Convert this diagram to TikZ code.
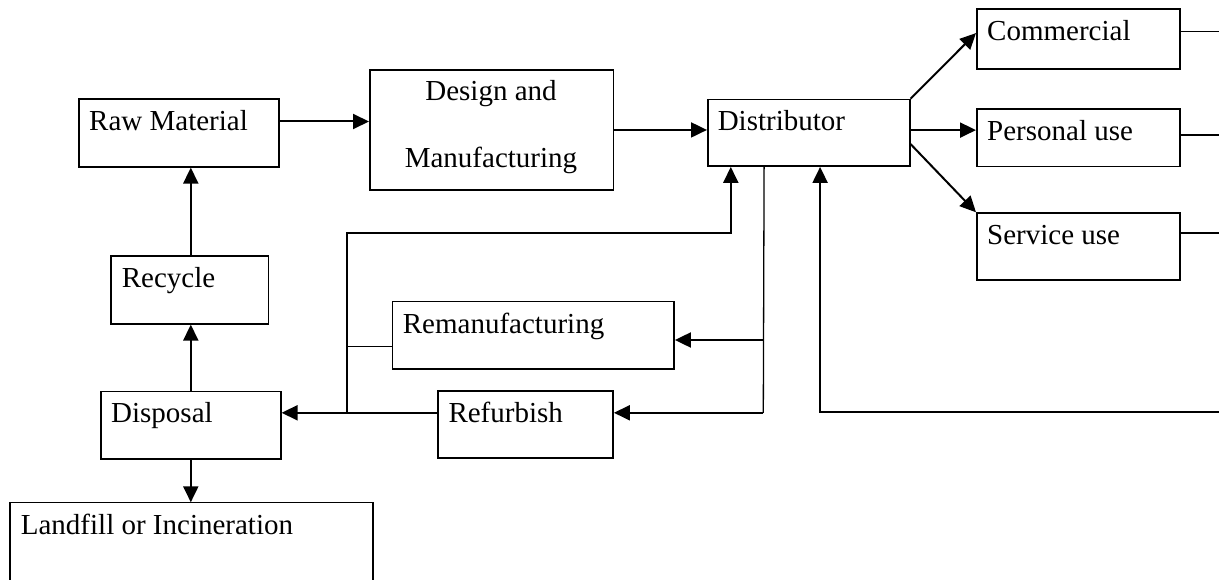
\documentclass[tikz,border=0pt]{standalone}
\usepackage{fontspec}
\setmainfont{Liberation Serif}
\usetikzlibrary{arrows.meta}
\tikzset{
  box/.style={draw, line width=1.6pt, inner sep=0pt, anchor=north west},
  openbox/.style={inner sep=0pt, anchor=north west},
  lbl/.style={inner sep=0pt, anchor=base west, font=\fontsize{29}{35}\selectfont},
  arr/.style={line width=2pt, -{Triangle[length=16pt,width=15pt]}},
  ln/.style={line width=1.8pt},
  thinln/.style={line width=1.3pt}
}
\begin{document}
\begin{tikzpicture}[x=1pt,y=-1pt]
\useasboundingbox (0,0) rectangle (1219,580);
% boxes
\node[box, minimum width=200pt, minimum height=68pt] (raw) at (78,98) {};
\node[box, minimum width=243.7pt, minimum height=120.3pt] (design) at (369,69) {};
\node[box, minimum width=202pt, minimum height=66.6pt] (dist) at (707,98.7) {};
\node[box, minimum width=203.3pt, minimum height=60pt] (comm) at (976,8.3) {};
\node[box, minimum width=203.3pt, minimum height=57.4pt] (pers) at (976,108.3) {};
\node[box, minimum width=203.3pt, minimum height=67pt] (serv) at (976,212.3) {};
\node[box, minimum width=157.7pt, minimum height=68pt] (recy) at (110,255) {};
\node[box, minimum width=180pt, minimum height=67.3pt] (disp) at (100,390.7) {};
\node[box, minimum width=281.6pt, minimum height=67.6pt] (reman) at (391.7,300.7) {};
\node[box, minimum width=175pt, minimum height=67pt] (refurb) at (437.3,390) {};
\node[openbox, minimum width=362.3pt, minimum height=78pt] (land) at (10,502.3) {};
\draw[line width=1.6pt] (land.south west) -- (land.north west) -- (land.north east) -- (land.south east);
% texts
\node[lbl] (rawt) at (89,131) {Raw Material};
\node[lbl,anchor=base] (des1) at (491,100.7) {Design and};
\node[lbl,anchor=base] (des2) at (491,167.7) {Manufacturing};
\node[lbl] (distt) at (717.6,131) {Distributor};
\node[lbl] (commt) at (987,41) {Commercial};
\node[lbl] (perst) at (987,141) {Personal use};
\node[lbl] (servt) at (987,245) {Service use};
\node[lbl] (recyt) at (121.7,287.7) {Recycle};
\node[lbl] (dispt) at (111,422.7) {Disposal};
\node[lbl] (landt) at (20.7,534.3) {Landfill or Incineration};
\node[lbl] (remant) at (402.7,333.3) {Remanufacturing};
\node[lbl] (refurbt) at (448.3,422.7) {Refurbish};
% coordinates
\coordinate (R) at (1219,0);
\coordinate (jr) at (763.3,340);
\coordinate (jf) at (763.3,412.8);
\coordinate (k1) at (347.3,412.8);
\coordinate (k2) at (347.3,232.7);
\coordinate (b) at (1219,412.3);
\coordinate (a) at ([xshift=-78pt]dist.south);
\coordinate (c) at ([xshift=11.3pt]dist.south);
\coordinate (j) at ([xshift=-44.7pt]dist.south);
% main flow
\draw[arr] ([yshift=11.3pt]raw.east) -- ([yshift=11.3pt]raw.east -| design.west);
\draw[arr] (design.east) -- (design.east -| dist.west);
\draw[arr] (dist.north east) -- ([yshift=6pt]comm.west);
\draw[arr] ([yshift=2.7pt]dist.east) -- ([yshift=2.7pt]dist.east -| pers.west);
\draw[arr] ([yshift=-11.3pt]dist.east) -- (serv.north west);
% right outgoing lines
\draw[ln] ([yshift=7.6pt]comm.east) -- ([yshift=7.6pt]comm.east -| R);
\draw[ln] ([yshift=2.7pt]pers.east) -- ([yshift=2.7pt]pers.east -| R);
\draw[ln] ([yshift=13.5pt]serv.east) -- ([yshift=13.5pt]serv.east -| R);
% return to distributor
\draw[arr] (b) -- (b -| c) -- (c);
% distributor down to reman/refurb
\draw[thinln] (j) -- (jf);
\draw[arr] (jr) -- (jr -| reman.east);
\draw[arr] (jf) -- (jf -| refurb.east);
% left collector
\draw[arr] (k1 -| refurb.west) -- (k1 -| disp.east);
\draw[arr] (k1) -- (k2) -- (k2 -| a) -- (a);
\draw[thinln] ([yshift=-11.2pt]reman.west) -- ([yshift=-11.2pt]reman.west -| k1);
% left column
\draw[arr] (disp.north) -- (disp.north |- recy.south);
\draw[arr] (recy.north -| disp.north) -- (disp.north |- raw.south);
\draw[arr] (disp.south) -- (disp.south |- land.north);
\end{tikzpicture}
\end{document}
